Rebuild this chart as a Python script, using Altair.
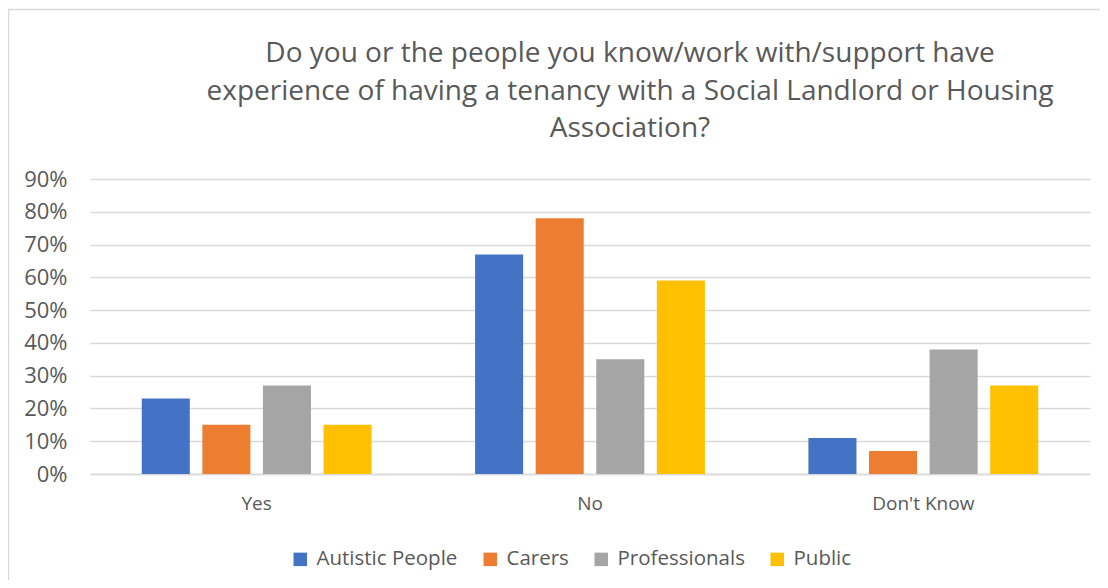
import altair as alt
import pandas as pd

categories = ["Yes", "No", "Don't Know"]
groups = ["Autistic People", "Carers", "Professionals", "Public"]
autistic = [0.23, 0.67, 0.11]
carers = [0.15, 0.78, 0.07]
professionals = [0.27, 0.35, 0.38]
public = [0.15, 0.59, 0.27]
colors = ["#4472C4", "#ED7D31", "#A5A5A5", "#FFC000"]
y_ticks = [0, 0.1, 0.2, 0.3, 0.4, 0.5, 0.6, 0.7, 0.8, 0.9]
title_lines = [
    "Do you or the people you know/work with/support have",
    "experience of having a tenancy with a Social Landlord or Housing",
    "Association?",
]

rows = []
for series, vals in zip(groups, [autistic, carers, professionals, public]):
    for c, v in zip(categories, vals):
        rows.append({"answer": c, "group": series, "share": v})
df = pd.DataFrame(rows)

W, H = 1000, 295
FONT = "Open Sans"
TXT = "#595959"
GRID = "#d9d9d9"

bars = alt.Chart(df).mark_bar().encode(
    x=alt.X(
        "answer:N",
        sort=categories,
        scale=alt.Scale(paddingInner=0, paddingOuter=0),
        axis=alt.Axis(
            title=None, labelAngle=0, labelFontSize=19, labelColor=TXT,
            labelPadding=20, ticks=False, domainColor=GRID, domainWidth=1.5,
            labelFont=FONT,
        ),
    ),
    xOffset=alt.XOffset(
        "group:N", sort=groups,
        scale=alt.Scale(paddingInner=0.207, paddingOuter=0.854),
    ),
    y=alt.Y(
        "share:Q",
        scale=alt.Scale(domain=[0, 0.9], nice=False),
        axis=alt.Axis(
            values=y_ticks, format=".0%", title=None, domain=False, ticks=False,
            gridColor=GRID, gridWidth=1.5, labelFontSize=22, labelColor=TXT,
            labelFont=FONT, labelPadding=23,
        ),
    ),
    color=alt.Color(
        "group:N",
        sort=groups,
        scale=alt.Scale(domain=groups, range=colors),
        legend=alt.Legend(
            title=None, orient="none", legendX=200, legendY=370,
            direction="horizontal", symbolType="square", symbolSize=182,
            labelFontSize=20.5, labelColor=TXT, labelFont=FONT,
            columnPadding=22, labelOffset=6, symbolStrokeWidth=0,
            symbolOpacity=1,
        ),
    ),
)

border = alt.Chart(pd.DataFrame({"k": [0]})).mark_rect(
    fillOpacity=0, stroke=GRID, strokeWidth=1.5
).encode(
    x=alt.value(-81.5), x2=alt.value(1100), y=alt.value(-169.5), y2=alt.value(500)
)

title_baselines = [-117, -79, -42]
title_layers = []
for line, yb in zip(title_lines, title_baselines):
    title_layers.append(
        alt.Chart(pd.DataFrame({"t": [line]})).mark_text(
            font=FONT, fontSize=28, color=TXT, align="center", baseline="alphabetic"
        ).encode(
            text="t:N", x=alt.value(540), y=alt.value(yb)
        )
    )

chart = alt.layer(border, bars, *title_layers).properties(
    width=W,
    height=H,
    autosize=alt.AutoSizeParams(type="none"),
    padding={"left": 82, "top": 171, "right": 10, "bottom": 106},
).configure_view(strokeWidth=0)

chart.save("out.html", embed_options={"renderer": "svg", "actions": False})
